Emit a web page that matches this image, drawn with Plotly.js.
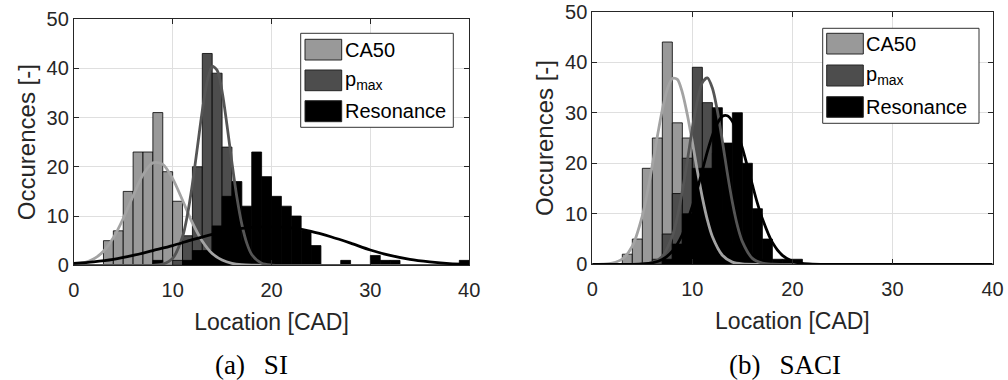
<!DOCTYPE html>
<html><head><meta charset="utf-8">
<script src="https://cdn.plot.ly/plotly-3.0.1.min.js"></script>
<style>html,body{margin:0;padding:0;background:#fff}#chart{width:1008px;height:380px}</style>
</head><body><div id="chart"></div>
<script>
// ---------------- data ----------------
// histogram bins: left edge of each 1-CAD bin, and occurrence counts
const siCA50Bins   = [3,4,5,6,7,8,9,10,11];
const siCA50Counts = [5,7,15,23,23,31,19,13,3];
const siPmaxBins   = [10,11,12,13,14,15,16,17];
const siPmaxCounts = [1,6,20,43,39,24,5,1];
const siResBins    = [8,11,12,13,14,15,16,17,18,19,20,21,22,23,24,27,30,31,32,39];
const siResCounts  = [1,1,3,3,8,14,17,12,23,18,14,12,10,7,4,1,2,1,1,1];

const saciCA50Bins   = [3,4,5,6,7,8,9,10,11,12];
const saciCA50Counts = [2,5,19,25,44,28,25,18,10,4];
const saciPmaxBins   = [6,7,8,9,10,11,12,13,14,15,16];
const saciPmaxCounts = [1,6,14,21,39,32,22,10,4,2,1];
const saciResBins    = [7,8,9,10,11,12,13,14,15,16,17,18,19,20];
const saciResCounts  = [1,4,10,19,19,31,24,30,20,11,5,1,1,1];

// fitted distribution curves
const siCA50FitX = [0,1,2,3,4,5,6,7,8,9,10,11,12,13,14,15,16,17,18,20,25,30,35,40];
const siCA50FitY = [0.17,0.49,1.26,2.84,5.57,9.5,14.1,18.4,20.8,20.5,17.6,13.2,8.6,4.9,2.4,1.06,0.4,0.13,0.04,0,0,0,0,0];
const siPmaxFitX = [0,5,8,9,10,11,11.5,12,12.5,13,13.5,14,14.5,15,15.5,16,16.5,17,17.5,18,19,20,22,25,30,40];
const siPmaxFitY = [0,0,0,0.23,1.41,5.8,10.3,16.5,23.9,31.4,37.4,40.4,39.6,35.3,28.4,20.8,13.8,8.3,4.5,2.2,0.41,0.05,0,0,0,0];
const siResFitX  = [0,2,4,6,8,10,12,14,16,18,20,22,24,26,28,30,32,34,36,38,40];
const siResFitY  = [0.4,0.7,1.2,2.0,3.0,4.0,5.2,6.3,7.2,7.7,7.8,7.6,6.9,5.8,4.5,3.1,2.0,1.2,0.7,0.35,0.2];

const saciCA50FitX = [0,1,2,3,4,5,5.5,6,6.5,7,7.5,8,8.5,9,9.5,10,10.5,11,11.5,12,13,14,15,17,20,30,40];
const saciCA50FitY = [0,0.04,0.24,1.05,3.6,9.6,14.2,19.6,25.3,30.6,34.7,36.8,36.6,34.0,29.6,24.2,18.5,13.2,8.8,5.5,1.8,0.44,0.08,0,0,0,0];
const saciPmaxFitX = [0,4,5,6,7,8,8.5,9,9.5,10,10.5,11,11.5,12,12.5,13,13.5,14,14.5,15,16,17,18,20,30,40];
const saciPmaxFitY = [0,0,0.05,0.32,1.57,5.6,9.4,14.5,20.5,26.9,32.4,36.0,36.9,34.9,30.4,24.4,18.0,12.3,7.7,4.5,1.17,0.22,0.03,0,0,0];
const saciResFitX  = [0,4,5,6,7,8,9,10,10.5,11,11.5,12,12.5,13,13.5,14,14.5,15,15.5,16,16.5,17,18,19,20,21,22,25,30,40];
const saciResFitY  = [0,0,0.07,0.29,0.94,2.6,5.9,11.5,14.9,18.6,22.3,25.5,27.9,29.3,29.4,28.3,26.0,23.0,19.4,15.7,12.1,9.0,4.3,1.76,0.6,0.17,0.04,0,0,0];

const legendNames = ['CA50', 'p<sub>max</sub>', 'Resonance'];
const xTicks = [0,10,20,30,40];
const yTicks = [0,10,20,30,40,50];

// ---------------- styling ----------------
const W = 1008, H = 380;
const colCA50 = '#999999', colPmax = '#4d4d4d', colRes = '#000000';
const lineCA50 = '#a3a3a3', linePmax = '#555555', lineRes = '#000000';
const FONT = 'Liberation Sans, Arial, Helvetica, sans-serif';
const axCol = '#262626';

function bars(bins, counts, color, xa, ya) {
  return {type:'bar', x:bins, y:counts, width:1, offset:0, xaxis:xa, yaxis:ya,
    marker:{color:color, line:{color:'#000', width:0.8}}, showlegend:false, hoverinfo:'skip'};
}
function fit(xs, ys, color, xa, ya) {
  return {type:'scatter', mode:'lines', x:xs, y:ys, xaxis:xa, yaxis:ya,
    line:{color:color, width:2.8, shape:'spline', smoothing:0.8}, showlegend:false, hoverinfo:'skip'};
}

const traces = [
  bars(siCA50Bins, siCA50Counts, colCA50, 'x', 'y'),
  bars(siPmaxBins, siPmaxCounts, colPmax, 'x', 'y'),
  bars(siResBins, siResCounts, colRes, 'x', 'y'),
  bars(saciCA50Bins, saciCA50Counts, colCA50, 'x2', 'y2'),
  bars(saciPmaxBins, saciPmaxCounts, colPmax, 'x2', 'y2'),
  bars(saciResBins, saciResCounts, colRes, 'x2', 'y2'),
  fit(siCA50FitX, siCA50FitY, lineCA50, 'x', 'y'),
  fit(siPmaxFitX, siPmaxFitY, linePmax, 'x', 'y'),
  fit(siResFitX, siResFitY, lineRes, 'x', 'y'),
  fit(saciCA50FitX, saciCA50FitY, lineCA50, 'x2', 'y2'),
  fit(saciPmaxFitX, saciPmaxFitY, linePmax, 'x2', 'y2'),
  fit(saciResFitX, saciResFitY, lineRes, 'x2', 'y2')
];

function xAxis(domain, anchor) {
  return {domain:domain, anchor:anchor, range:[0,40], tickvals:xTicks, ticktext:xTicks.map(String),
    showline:true, mirror:'ticks', linecolor:axCol, linewidth:1,
    ticks:'inside', ticklen:5, tickcolor:axCol, tickwidth:1, ticklabelstandoff:7,
    showgrid:true, gridcolor:'#dfdfdf', gridwidth:1, zeroline:false,
    tickfont:{family:FONT, size:20, color:axCol},
    title:{text:'Location [CAD]', font:{family:FONT, size:23, color:axCol}, standoff:13},
    fixedrange:true};
}
function yAxis(domain, anchor) {
  return {domain:domain, anchor:anchor, range:[0,50], tickvals:yTicks, ticktext:yTicks.map(String),
    showline:true, mirror:'ticks', linecolor:axCol, linewidth:1,
    ticks:'inside', ticklen:5, tickcolor:axCol, tickwidth:1,
    showgrid:true, gridcolor:'#dfdfdf', gridwidth:1, zeroline:false,
    tickfont:{family:FONT, size:20, color:axCol},
    title:{text:'Occurences [-]', font:{family:FONT, size:24, color:axCol}, standoff:4},
    fixedrange:true};
}

const px = v => v / W, py = v => 1 - v / H;

// legend boxes drawn as shapes (pixel positions from the reference)
const shapes = [];
const annotations = [];
function legend(box, sw, textX, rows) {
  shapes.push({type:'rect', xref:'paper', yref:'paper', x0:px(box[0]), x1:px(box[1]), y0:py(box[2]), y1:py(box[3]),
    fillcolor:'#ffffff', line:{color:'#333333', width:1}, layer:'above'});
  const cols = [colCA50, colPmax, colRes];
  rows.forEach((r, i) => {
    shapes.push({type:'rect', xref:'paper', yref:'paper', x0:px(sw[0]), x1:px(sw[1]), y0:py(r[0]), y1:py(r[1]),
      fillcolor:cols[i], line:{color:'#262626', width:1}, layer:'above'});
    annotations.push({xref:'paper', yref:'paper', x:px(textX), y:py((r[0]+r[1])/2), xanchor:'left', yanchor:'middle',
      text:legendNames[i], showarrow:false, font:{family:FONT, size:20, color:'#000'}});
  });
}
legend([300.7,453.3,33.3,127.3], [305,341.7], 343, [[39.3,60],[70,90.7],[100.7,121.7]]);
legend([822.7,979,28.3,123.3], [826.7,863.3], 864, [[33.3,54],[65,86],[96.7,117.3]]);

const CAPFONT = {family:'Liberation Serif, Times New Roman, serif', size:27, color:'#000'};
annotations.push({xref:'paper', yref:'paper', x:px(251), y:py(365), xanchor:'center', yanchor:'middle',
  text:'(a)\u2002\u2009SI', showarrow:false, font:CAPFONT});
annotations.push({xref:'paper', yref:'paper', x:px(785), y:py(365), xanchor:'center', yanchor:'middle',
  text:'(b)\u2002\u2009SACI', showarrow:false, font:CAPFONT});

const layout = {
  width:W, height:H, margin:{l:0, r:0, t:0, b:0}, paper_bgcolor:'#fff', plot_bgcolor:'#fff',
  barmode:'overlay', bargap:0, showlegend:false,
  xaxis: xAxis([73.8/W, 469.2/W], 'y'),
  yaxis: yAxis([py(265.3), py(19)], 'x'),
  xaxis2: xAxis([592.3/W, 992.5/W], 'y2'),
  yaxis2: yAxis([py(264.3), py(11.7)], 'x2'),
  shapes: shapes, annotations: annotations
};

Plotly.newPlot('chart', traces, layout, {staticPlot:true, displayModeBar:false});
</script>
</body></html>
